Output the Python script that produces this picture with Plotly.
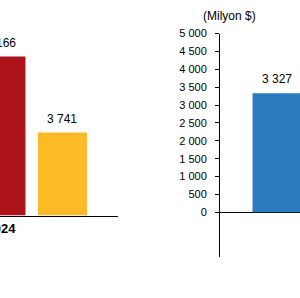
import plotly.graph_objects as go

# ---- data ----
categories = ["2024"]
red_values = [7166]
yellow_values = [3741]
blue_values = [3327]
right_tick_values = [0, 500, 1000, 1500, 2000, 2500, 3000, 3500, 4000, 4500, 5000]
right_tick_labels = ["0", "500", "1 000", "1 500", "2 000", "2 500", "3 000",
                     "3 500", "4 000", "4 500", "5 000"]
unit_label = "(Milyon $)"


def fmt(v):
    return f"{v:,}".replace(",", " ")


# ---- layout helpers ----
W, H = 300, 298
FONT = "Liberation Sans, Arial, sans-serif"
BAR_W = 0.2
GAP = 0.051
PX_PER_UNIT = 245.0


def fy(p):
    return 1 - p / H


RED = "#AD141B"
YELLOW = "#FDBA26"
BLUE = "#2A7BC0"

off_red = -BAR_W / 2
off_yellow = BAR_W / 2 + GAP
off_blue = -BAR_W / 2 - GAP - BAR_W

fig = go.Figure()
fig.add_trace(go.Bar(x=categories, y=red_values, offset=off_red, width=BAR_W,
                     marker=dict(color=RED, line=dict(width=0)),
                     xaxis="x", yaxis="y", showlegend=False, hoverinfo="skip"))
fig.add_trace(go.Bar(x=categories, y=yellow_values, offset=off_yellow, width=BAR_W,
                     marker=dict(color=YELLOW, line=dict(width=0)),
                     xaxis="x", yaxis="y", showlegend=False, hoverinfo="skip"))
fig.add_trace(go.Bar(x=categories, y=blue_values, offset=off_blue, width=BAR_W,
                     marker=dict(color=BLUE, line=dict(width=0)),
                     xaxis="x2", yaxis="y2", showlegend=False, hoverinfo="skip"))

annotations = []
for i, _ in enumerate(categories):
    for vals, off, xr, yr in [(red_values, off_red, "x", "y"),
                              (yellow_values, off_yellow, "x", "y"),
                              (blue_values, off_blue, "x2", "y2")]:
        annotations.append(dict(
            x=i + off + BAR_W / 2, y=vals[i], xref=xr, yref=yr,
            text=fmt(vals[i]), showarrow=False, yanchor="bottom", yshift=5,
            font=dict(family=FONT, size=12, color="#000000")))

annotations.append(dict(x=229.7 / W, y=fy(16), xref="paper", yref="paper",
                        text=unit_label, showarrow=False, xanchor="center",
                        yanchor="middle",
                        font=dict(family=FONT, size=12, color="#000000")))

left_start = -0.004
right_start = (220 - 338.5) / PX_PER_UNIT

fig.update_layout(
    template="none",
    width=W, height=H,
    margin=dict(l=0, r=0, t=0, b=0, autoexpand=False),
    paper_bgcolor="white", plot_bgcolor="white",
    barmode="overlay",
    font=dict(family=FONT, size=12, color="#000000"),
    annotations=annotations,
    xaxis=dict(domain=[0, 118 / W], anchor="y", type="category",
               range=[left_start, left_start + 118 / PX_PER_UNIT],
               automargin=False,
               showline=True, linecolor="#000000", linewidth=1,
               ticks="", showgrid=False, zeroline=False,
               tickfont=dict(family=FONT, size=13, color="#000000", weight="bold"),
               ticklabelstandoff=1),
    yaxis=dict(domain=[fy(215.5), fy(33)], anchor="x",
               range=[0, (215.5 - 33) * 45.07], automargin=False,
               visible=False),
    xaxis2=dict(domain=[220 / W, 1], anchor="y2", type="category",
                range=[right_start, right_start + 80 / PX_PER_UNIT],
                automargin=False,
                showticklabels=False, showline=False, ticks="",
                showgrid=False, zeroline=False),
    yaxis2=dict(domain=[fy(257), fy(33.5)], anchor="x2",
                range=[-1250, 5000], automargin=False,
                tickmode="array", tickvals=right_tick_values,
                ticktext=right_tick_labels,
                ticks="outside", ticklen=4, tickcolor="#000000", tickwidth=1,
                showline=True, linecolor="#000000", linewidth=1,
                zeroline=True, zerolinecolor="#000000", zerolinewidth=1,
                showgrid=False,
                tickfont=dict(family=FONT, size=11, color="#000000"),
                ticklabelstandoff=6),
)

fig.write_html("out.html")
